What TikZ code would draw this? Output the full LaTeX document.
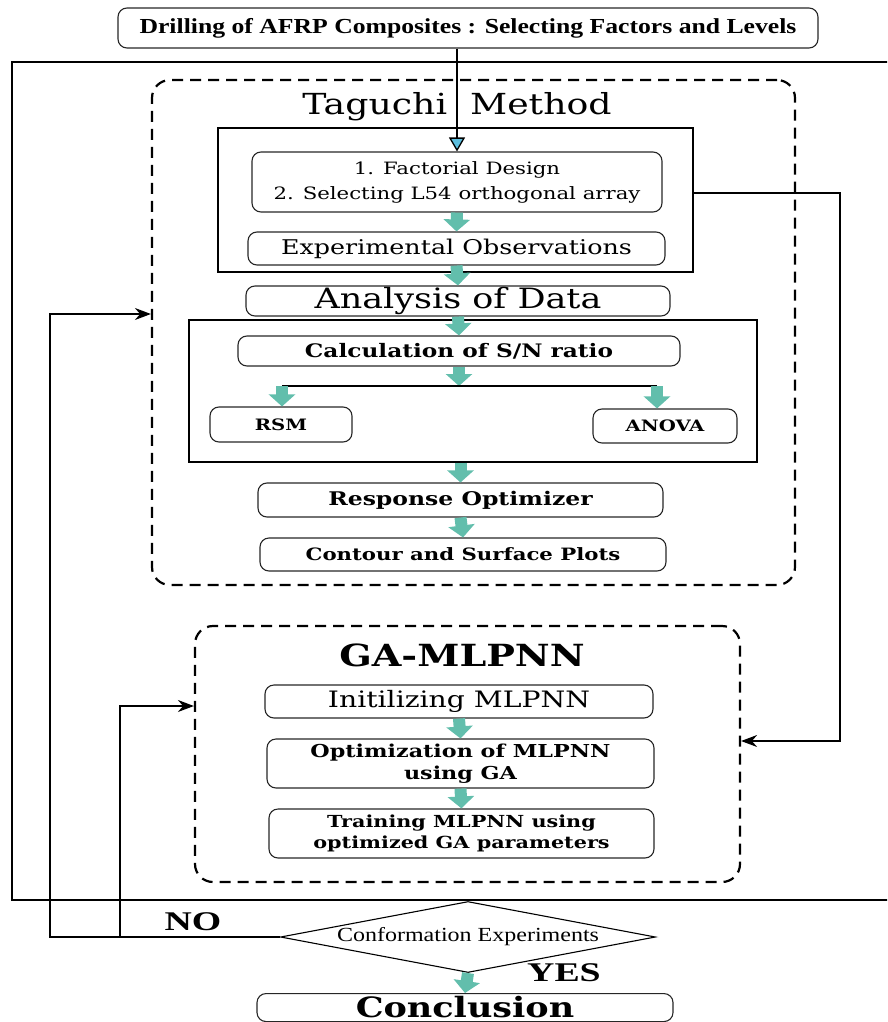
\documentclass[tikz,border=0pt]{standalone}
\usepackage{fontspec}
\usepackage{tikz}
\usetikzlibrary{shapes.geometric}
\usetikzlibrary{arrows.meta}
\usetikzlibrary{calc}
\usepackage{xcolor}

\newfontfamily\dvs[FakeStretch=1.25]{DejaVu Serif}
\newfontfamily\tms[FakeStretch=1.2]{Liberation Serif}
\newfontfamily\tmsw[FakeStretch=1.4]{Liberation Serif}
\definecolor{arrowteal}{RGB}{98,190,172}
\definecolor{tipblue}{RGB}{92,190,222}

\begin{document}
\begin{tikzpicture}[x=1pt, y=-1pt]
        % ================= 样式定义 =================
        % 圆角步骤框、实线框、虚线框、连线、青色粗箭头
        \tikzset{
            procbox/.style={draw=black!85, line width=1.1pt, rounded corners=9pt, align=center, inner sep=0pt},
            solidframe/.style={draw=black, line width=2.2pt, inner sep=0pt},
            dashbox/.style={draw=black, line width=2.2pt, dash pattern=on 11pt off 7pt, rounded corners=18pt, inner sep=0pt},
            conn/.style={draw=black, line width=1.5pt, -{Stealth[length=16pt, width=12pt]}},
            tealarrow/.style={draw=arrowteal, line width=12pt, -{Triangle[width=26pt, length=12pt]}},
            title/.style={anchor=base, font=\dvs\fontsize{29}{34}\selectfont}
        }

        % 画布大小
        \useasboundingbox (0,0) rectangle (887,1022);
        \clip (0,0) rectangle (887,1022);

        % ================= 外框 =================
        \draw[line width=1.6pt] (12,62) rectangle (900,900);

        % 顶部输入
        \node[procbox, minimum width=700pt, minimum height=40pt, font=\tms\bfseries\fontsize{21.4}{25}\selectfont] (top) at (468,28)
            {Drilling of AFRP Composites : Selecting Factors and Levels};

        % ================= Taguchi 部分 =================
        \node[dashbox, minimum width=643pt, minimum height=505pt] (tagbox) at (473.5,332.5) {};
        \node[title] (tagtitle) at (457,115) {Taguchi\ \ Method};

        \node[solidframe, minimum width=475pt, minimum height=144pt] (frameA) at (455.5,200) {};
        \node[procbox, minimum width=410pt, minimum height=60pt, font=\dvs\fontsize{17}{25}\selectfont] (fact) at (457,182)
            {1. Factorial Design\\2. Selecting L54 orthogonal array};
        \node[procbox, minimum width=417pt, minimum height=33pt, font=\dvs\fontsize{20.3}{24}\selectfont] (obs) at (456.5,248.5)
            {Experimental Observations};

        \node[procbox, minimum width=424pt, minimum height=30pt, font=\dvs\fontsize{28}{32}\selectfont] (anal) at (458,301)
            {Analysis of Data};

        \node[solidframe, minimum width=568pt, minimum height=142pt] (frameB) at (473,391) {};
        \node[procbox, minimum width=442pt, minimum height=30pt, font=\dvs\bfseries\fontsize{18.6}{22}\selectfont] (calc) at (459,351)
            {Calculation of S/N ratio};
        \coordinate (splitL) at (282,386);
        \coordinate (splitC) at (459,386);
        \coordinate (splitR) at (657,386);
        \node[procbox, minimum width=142pt, minimum height=35pt, font=\dvs\bfseries\fontsize{15.7}{18}\selectfont] (rsm) at (281,424.5) {RSM};
        \node[procbox, minimum width=144pt, minimum height=34pt, font=\dvs\bfseries\fontsize{15.7}{18}\selectfont] (anova) at (665,426) {ANOVA};

        \node[procbox, minimum width=405pt, minimum height=34pt, font=\dvs\bfseries\fontsize{18.8}{22}\selectfont] (resp) at (460.5,500)
            {Response Optimizer};
        \node[procbox, minimum width=406pt, minimum height=33pt, font=\dvs\bfseries\fontsize{17}{20}\selectfont] (cont) at (463,554.5)
            {Contour and Surface Plots};

        % ================= GA-MLPNN 部分 =================
        \node[dashbox, minimum width=545pt, minimum height=256pt] (gabox) at (467.5,754) {};
        \node[title, font=\dvs\bfseries\fontsize{30.5}{34}\selectfont] (gatitle) at (462,666) {GA-MLPNN};
        \node[procbox, minimum width=388pt, minimum height=33pt, font=\dvs\fontsize{22.6}{26}\selectfont] (init) at (459,701.5)
            {Initilizing MLPNN};
        \node[procbox, minimum width=387pt, minimum height=49pt, font=\dvs\bfseries\fontsize{17.8}{22}\selectfont] (optim) at (460.5,763.5)
            {Optimization of MLPNN\\using GA};
        \node[procbox, minimum width=385pt, minimum height=49pt, font=\dvs\bfseries\fontsize{16.6}{21}\selectfont] (train) at (461.5,833.5)
            {Training MLPNN using\\optimized GA parameters};

        % ================= 判断与结论 =================
        \node[draw, line width=1.1pt, diamond, aspect=5.3, inner sep=0pt, minimum width=375pt, minimum height=71pt,
            font=\tms\fontsize{20}{24}\selectfont] (dia) at (468,937) {Conformation Experiments};
        \node[procbox, anchor=north, minimum width=416pt, inner ysep=4pt, text height=20pt, text depth=0pt,
            font=\dvs\bfseries\fontsize{28}{32}\selectfont] (conc) at (465,993) {Conclusion};
        \node[anchor=base, font=\tmsw\bfseries\fontsize{27}{30}\selectfont] (no) at (193,930) {NO};
        \node[anchor=base, font=\tmsw\bfseries\fontsize{27}{30}\selectfont] (yes) at (564,981) {YES};

        % ================= 连线 =================
        \draw[line width=1.3pt, -{Triangle[width=16pt, length=14pt, fill=tipblue]}] (top.south -| fact.north) -- (fact.north);

        \draw[tealarrow] (fact.south) -- (obs.north);
        \draw[tealarrow] (obs.south) -- (anal.north);
        \draw[tealarrow] (anal.south) -- (calc.north);
        \draw[tealarrow] (calc.south) -- (splitC);
        \draw[line width=1.5pt] (splitL) -- (splitR);
        \draw[tealarrow] (splitL) -- (splitL |- rsm.north);
        \draw[tealarrow] (splitR) -- (splitR |- anova.north);
        \draw[tealarrow] (resp.north |- frameB.south) -- (resp.north);
        \draw[tealarrow] (resp.south) -- (cont.north);
        \draw[tealarrow] (init.south) -- (optim.north);
        \draw[tealarrow] (optim.south) -- (train.north);
        \draw[tealarrow] (dia.south) -- (conc.north);

        % 右侧:L54 数据送往 GA-MLPNN
        \coordinate (rtop) at (840,193);
        \coordinate (rbot) at (840,741);
        \draw[conn] (frameA.east |- rtop) -- (rtop) -- (rbot) -- (gabox.east |- rbot);

        % 左侧:NO 返回
        \coordinate (lout) at (50,314);
        \coordinate (lin) at (120,706);
        \draw[conn] (dia.west) -| (lout) -- (tagbox.west |- lout);
        \draw[conn] (lin |- dia.west) -- (lin) -- (gabox.west |- lin);

    \end{tikzpicture}
\end{document}
